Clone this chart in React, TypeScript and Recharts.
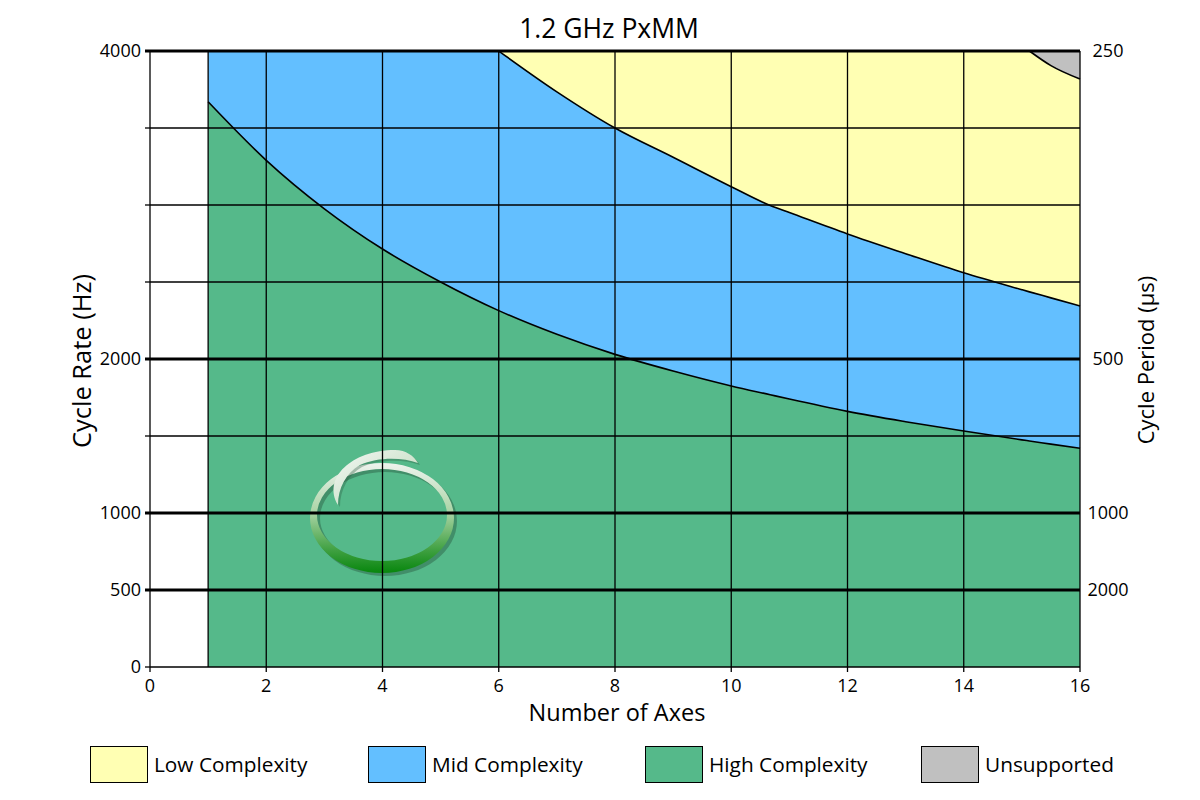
import {
  ComposedChart, Area, Line, XAxis, YAxis, ReferenceLine, ReferenceDot
} from 'recharts';

const axisCounts = [1, 2, 3, 4, 5, 6, 7, 8, 9, 10, 10.67, 11, 12, 13, 14, 15, 15.13, 15.5, 16];
// top of the High Complexity band (Hz)
const highLimit = [3670, 3290, 2975, 2714, 2500, 2314, 2160, 2030, 1922, 1825, 1768, 1740, 1660, 1593, 1532, 1475, 1468, 1447, 1420];
// top of the Mid Complexity band (Hz), null where it is still capped at 4000
const midLimit = [null, null, null, null, null, 4000, 3735, 3500, 3310, 3119, 2997, 2951, 2812, 2684, 2560, 2450, 2436, 2397, 2344];
// top of the Low Complexity band (Hz), above it is unsupported
const lowLimit = [null, null, null, null, null, null, null, null, null, null, null, null, null, null, null, null, 4000, 3905, 3818];
const rateMax = 4000;

const xTicks = [0, 2, 4, 6, 8, 10, 12, 14, 16];
const rateTicks = [0, 500, 1000, 1500, 2000, 2500, 3000, 3500, 4000];
const labeledRates = [0, 500, 1000, 2000, 4000];
const majorRates = [500, 1000, 2000, 4000];
const minorRates = [1500, 2500, 3000, 3500];
const periodRates = [500, 1000, 2000, 4000];

const colors = {
  low: '#FFFFB3',
  mid: '#63BFFF',
  high: '#55B98A',
  unsupported: '#C0C0C0',
};

const legendItems = [
  { label: 'Low Complexity', color: colors.low },
  { label: 'Mid Complexity', color: colors.mid },
  { label: 'High Complexity', color: colors.high },
  { label: 'Unsupported', color: colors.unsupported },
];
const legendLefts = [90, 368, 645, 921];

const rows = axisCounts.map((n, i) => ({
  axes: n,
  high: [0, highLimit[i]],
  mid: [highLimit[i], rateMax],
  low: midLimit[i] == null ? null : [midLimit[i], rateMax],
  unsupported: lowLimit[i] == null ? null : [lowLimit[i], rateMax],
  highLine: highLimit[i],
  midLine: midLimit[i],
  lowLine: lowLimit[i],
}));

function RateTick({ x, y, payload }: any) {
  const v = payload.value;
  return (
    <g>
      <line x1={x + 4} x2={x + 9} y1={y} y2={y} stroke="#000" strokeWidth={majorRates.includes(v) ? 3 : 1.3} />
      {labeledRates.includes(v) && (
        <text x={x} y={y} dy="0.36em" textAnchor="end" fontSize={18} fill="#000">{v}</text>
      )}
    </g>
  );
}

const ellipsePath = (cx: number, cy: number, rx: number, ry: number) =>
  `M ${cx - rx} ${cy} A ${rx} ${ry} 0 1 0 ${cx + rx} ${cy} A ${rx} ${ry} 0 1 0 ${cx - rx} ${cy} Z`;

function Logo({ cx, cy }: any) {
  const ring = ellipsePath(0, 0, 72, 55) + ' ' + ellipsePath(0, -3, 65, 46);
  const swoosh = 'M -44 -13 C -60 -40, -30 -68, 13 -68 C 24 -68, 32 -62, 36 -55 C 20 -61, -5 -61, -22 -53 C -36 -45, -44 -30, -44 -13 Z';
  return (
    <g transform={`translate(${cx - 0.5},${cy + 5})`}>
      <defs>
        <linearGradient id="ringGrad" x1="0" y1="0" x2="0" y2="1">
          <stop offset="0" stopColor="#eef3ee" />
          <stop offset="0.45" stopColor="#a9d4a5" />
          <stop offset="0.8" stopColor="#3d9f3f" />
          <stop offset="1" stopColor="#07860d" />
        </linearGradient>
        <linearGradient id="swooshGrad" x1="0" y1="0" x2="1" y2="1">
          <stop offset="0" stopColor="#f5f8f5" />
          <stop offset="1" stopColor="#b5d6b2" />
        </linearGradient>
      </defs>
      <path d={ring} transform="translate(3,3)" fill="#2b5a40" fillOpacity={0.45} fillRule="evenodd" />
      <path d={ring} fill="url(#ringGrad)" fillRule="evenodd" />
      <path d={swoosh} transform="translate(2,2)" fill="#2b5a40" fillOpacity={0.35} />
      <path d={swoosh} fill="url(#swooshGrad)" />
    </g>
  );
}

export default function App() {
  return (
    <div style={{ position: 'absolute', left: 0, top: 0, width: 1200, height: 800, background: '#fff', fontFamily: "'Open Sans', sans-serif" }}>
      <ComposedChart width={1200} height={800} data={rows} margin={{ top: 51, right: 0, bottom: 0, left: 0 }}>
        <XAxis
          dataKey="axes"
          type="number"
          domain={[0, 16]}
          ticks={xTicks}
          interval={0}
          height={133}
          tickSize={5}
          tickMargin={7}
          tick={{ fill: '#000', fontSize: 18 }}
          axisLine={{ stroke: '#000', strokeWidth: 1.3 }}
          tickLine={{ stroke: '#000', strokeWidth: 1.3 }}
        />
        <YAxis
          yAxisId="rate"
          domain={[0, rateMax]}
          ticks={rateTicks}
          interval={0}
          width={150}
          tickSize={5}
          tickMargin={4}
          tickLine={false}
          tick={<RateTick />}
          axisLine={{ stroke: '#000', strokeWidth: 1.3 }}
        />
        <YAxis
          yAxisId="period"
          orientation="right"
          domain={[0, rateMax]}
          ticks={periodRates}
          interval={0}
          width={120}
          tickSize={0}
          tickMargin={28}
          tickLine={false}
          axisLine={false}
          tick={{ fill: '#000', fontSize: 18, textAnchor: 'middle' }}
          tickFormatter={(v: number) => String(1e6 / v)}
        />

        <Area yAxisId="rate" dataKey="high" type="monotone" fill={colors.high} fillOpacity={1} stroke="none" isAnimationActive={false} activeDot={false} zIndex={100} />
        <Area yAxisId="rate" dataKey="mid" type="monotone" fill={colors.mid} fillOpacity={1} stroke="none" isAnimationActive={false} activeDot={false} zIndex={100} />
        <Area yAxisId="rate" dataKey="low" type="monotone" fill={colors.low} fillOpacity={1} stroke="none" isAnimationActive={false} activeDot={false} zIndex={101} />
        <Area yAxisId="rate" dataKey="unsupported" type="monotone" fill={colors.unsupported} fillOpacity={1} stroke="none" isAnimationActive={false} activeDot={false} zIndex={102} />
        {/* keeps the period axis attached to the same data range */}
        <Line yAxisId="period" dataKey="highLine" stroke="none" dot={false} activeDot={false} isAnimationActive={false} />

        <ReferenceDot
          yAxisId="rate"
          x={4}
          y={1000}
          r={1}
          fill="none"
          stroke="none"
          ifOverflow="visible"
          zIndex={150}
          shape={(p: any) => <Logo cx={p.cx} cy={p.cy} />}
        />

        {minorRates.map((r) => (
          <ReferenceLine key={`m${r}`} yAxisId="rate" y={r} stroke="#000" strokeWidth={1.3} zIndex={200} />
        ))}
        {majorRates.map((r) => (
          <ReferenceLine key={`M${r}`} yAxisId="rate" y={r} stroke="#000" strokeWidth={3} zIndex={200} />
        ))}
        {[axisCounts[0], ...xTicks.slice(1)].map((n) => (
          <ReferenceLine key={`x${n}`} yAxisId="rate" x={n} stroke="#000" strokeWidth={1.3} zIndex={200} />
        ))}

        <Line yAxisId="rate" dataKey="highLine" type="monotone" stroke="#000" strokeWidth={1.6} dot={false} activeDot={false} isAnimationActive={false} zIndex={300} />
        <Line yAxisId="rate" dataKey="midLine" type="monotone" stroke="#000" strokeWidth={1.6} dot={false} activeDot={false} isAnimationActive={false} zIndex={300} />
        <Line yAxisId="rate" dataKey="lowLine" type="monotone" stroke="#000" strokeWidth={1.6} dot={false} activeDot={false} isAnimationActive={false} zIndex={300} />
      </ComposedChart>

      <svg width={1200} height={800} style={{ position: 'absolute', left: 0, top: 0, pointerEvents: 'none' }}>
        <text x={609} y={37.7} textAnchor="middle" fontSize={26.5} fill="#000">1.2 GHz PxMM</text>
        <text x={617} y={720.5} textAnchor="middle" fontSize={23.5} fill="#000">Number of Axes</text>
        <text x={91} y={361} textAnchor="middle" fontSize={25.5} fill="#000" transform="rotate(-90, 91, 361)">Cycle Rate (Hz)</text>
        <text x={1154} y={360} textAnchor="middle" fontSize={22} fill="#000" transform="rotate(-90, 1154, 360)">Cycle Period (µs)</text>
      </svg>

      {legendItems.map((item, i) => (
        <div key={item.label}>
          <div
            style={{
              position: 'absolute', left: legendLefts[i], top: 746, width: 58, height: 37,
              boxSizing: 'border-box', border: '1.5px solid #000', background: item.color,
            }}
          />
          <div style={{ position: 'absolute', left: legendLefts[i] + 64, top: 750, height: 28, lineHeight: '28px', fontSize: 20.8, color: '#000', whiteSpace: 'nowrap' }}>
            {item.label}
          </div>
        </div>
      ))}
    </div>
  );
}
